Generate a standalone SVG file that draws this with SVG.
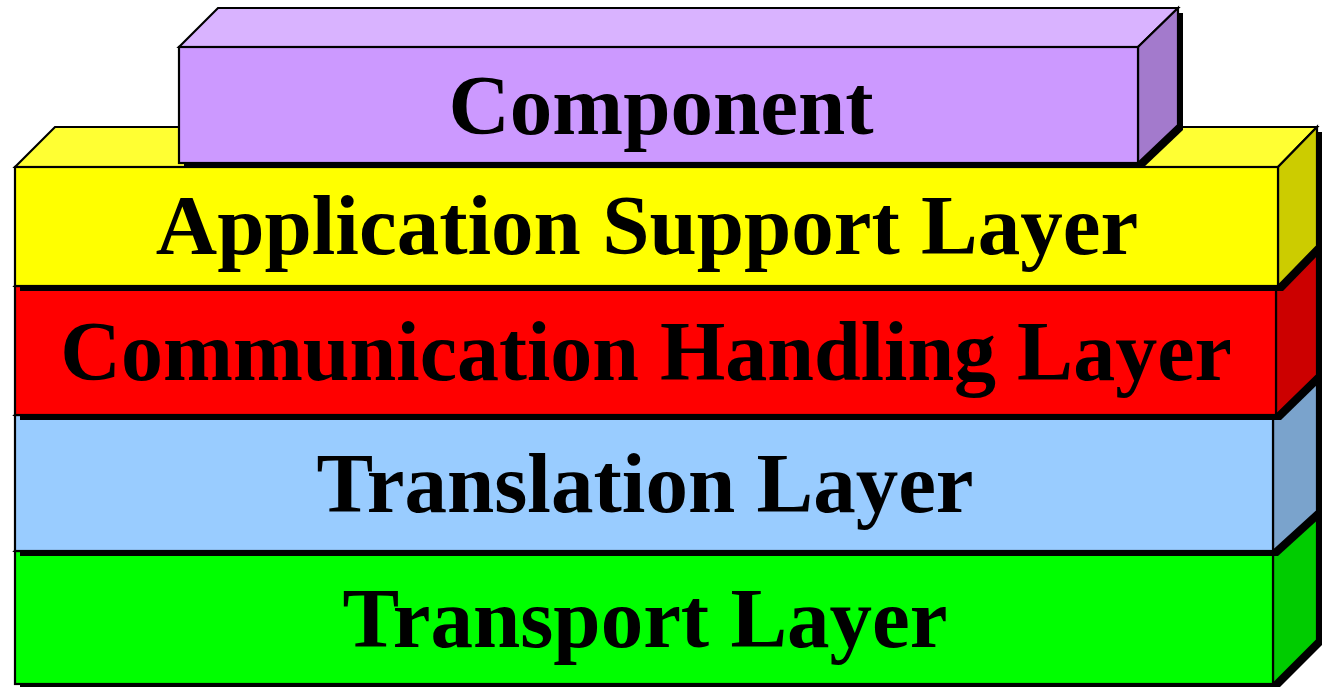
<svg xmlns="http://www.w3.org/2000/svg" width="1323" height="687" viewBox="0 0 1323 687">
  <style>
    .edge { stroke: #000; stroke-width: 2.2; stroke-linejoin: miter; }
    .shadow { fill: #000; }
    .label { font-family: "Liberation Serif", "Times New Roman", serif; font-weight: bold; font-size: 85px; fill: #000; text-anchor: middle; }
  </style>
  <rect width="1323" height="687" fill="#fff"/>

  <!-- Stack drawn bottom-up so each upper slab and its shadow overlaps the one below -->
  <g id="transport-layer">
    <polygon class="shadow" points="20,556 64,516 1322,516 1322,645 1278,689 20,689"/>
    <polygon class="edge" fill="#00FF00" points="15,551 59,511 1317,511 1273,551"/>
    <polygon class="edge" fill="#00CC00" points="1273,551 1317,511 1317,640 1273,684"/>
    <rect class="edge" fill="#00FF00" x="15" y="551" width="1258" height="133"/>
    <text class="label" x="645" y="647">Transport Layer</text>
  </g>

  <g id="translation-layer">
    <polygon class="shadow" points="20,420 64,380 1322,380 1322,516 1278,556 20,556"/>
    <polygon class="edge" fill="#99CCFF" points="15,415 59,375 1317,375 1273,415"/>
    <polygon class="edge" fill="#7AA3CC" points="1273,415 1317,375 1317,511 1273,551"/>
    <rect class="edge" fill="#99CCFF" x="15" y="415" width="1258" height="136"/>
    <text class="label" x="645" y="512">Translation Layer</text>
  </g>

  <g id="communication-handling-layer">
    <polygon class="shadow" points="20,291 61,251 1322,251 1322,380 1281,420 20,420"/>
    <polygon class="edge" fill="#FF3333" points="15,286 56,246 1317,246 1276,286"/>
    <polygon class="edge" fill="#CC0000" points="1276,286 1317,246 1317,375 1276,415"/>
    <rect class="edge" fill="#FF0000" x="15" y="286" width="1261" height="129"/>
    <text class="label" x="646" y="380" style="font-size:84px">Communication Handling Layer</text>
  </g>

  <g id="application-support-layer">
    <polygon class="shadow" points="20,172 60,132 1322,132 1322,251 1283,291 20,291"/>
    <polygon class="edge" fill="#FFFF33" points="15,167 55,127 1317,127 1278,167"/>
    <polygon class="edge" fill="#CCCC00" points="1278,167 1317,127 1317,246 1278,286"/>
    <rect class="edge" fill="#FFFF00" x="15" y="167" width="1263" height="119"/>
    <text class="label" x="647" y="254">Application Support Layer</text>
  </g>

  <g id="component">
    <polygon class="shadow" points="184,52 223,13 1183,13 1183,130 1143,168 184,168"/>
    <polygon class="edge" fill="#D9B3FF" points="179,47 218,8 1178,8 1138,47"/>
    <polygon class="edge" fill="#A37ACC" points="1138,47 1178,8 1178,125 1138,163"/>
    <rect class="edge" fill="#CC99FF" x="179" y="47" width="959" height="116"/>
    <text class="label" x="661" y="134">Component</text>
  </g>

  <g id="connectors"/>
</svg>
